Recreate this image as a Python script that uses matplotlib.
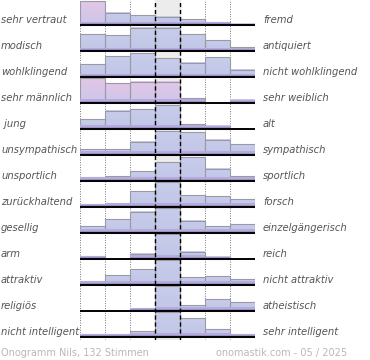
import numpy as np
import matplotlib
matplotlib.use("Agg")
import matplotlib.pyplot as plt
import matplotlib.transforms as mtransforms
from matplotlib.colors import LinearSegmentedColormap

# ------------------------------------------------------------
# Daten: Onogramm Nils (Höhe der Balken in % der Zeilenhöhe)
# ------------------------------------------------------------
left_labels = ["sehr vertraut", "modisch", "wohlklingend", "sehr männlich", " jung",
               "unsympathisch", "unsportlich", "zurückhaltend", "gesellig", "arm",
               "attraktiv", "religiös", "nicht intelligent"]
right_labels = ["fremd", "antiquiert", "nicht wohlklingend", "sehr weiblich", "alt",
                "sympathisch", "sportlich", "forsch", "einzelgängerisch", "reich",
                "nicht attraktiv", "atheistisch", "sehr intelligent"]

row_sehr_vertraut = [92, 47, 37, 32, 22, 10, 5]
row_modisch = [65, 60, 90, 90, 65, 42, 15]
row_wohlklingend = [50, 80, 92, 73, 54, 76, 27]
row_maennlich = [96, 76, 81, 81, 17, 0, 12]
row_jung = [37, 70, 77, 92, 18, 12, 0]
row_unsympathisch = [22, 22, 51, 92, 87, 58, 41]
row_unsportlich = [15, 19, 37, 73, 92, 47, 19]
row_zurueckhaltend = [10, 15, 59, 96, 46, 42, 28]
row_gesellig = [26, 51, 81, 96, 47, 26, 33]
row_arm = [10, 0, 20, 96, 27, 8, 0]
row_attraktiv = [13, 36, 60, 96, 28, 32, 23]
row_religioes = [0, 0, 10, 96, 20, 45, 32]
row_intelligent = [9, 9, 23, 96, 70, 28, 10]

# hervorgehobene (rosa) Balken: (Zeile, Spalte)
pink_bars = [(0, 0), (3, 0), (3, 1), (3, 2), (3, 3)]

footer_left = "Onogramm Nils, 132 Stimmen"
footer_right = "onomastik.com - 05 / 2025"

values = np.array([row_sehr_vertraut, row_modisch, row_wohlklingend, row_maennlich,
                   row_jung, row_unsympathisch, row_unsportlich, row_zurueckhaltend,
                   row_gesellig, row_arm, row_attraktiv, row_religioes,
                   row_intelligent]) / 100.0

n_rows, n_bins = values.shape

# ------------------------------------------------------------
# Figur
# ------------------------------------------------------------
W, H = 370, 360
fig = plt.figure(figsize=(W / 100, H / 100), dpi=100)
ax = fig.add_axes([80 / W, 20 / H, 175 / W, 340 / H])
ax.set_axis_off()

blue_cmap = LinearSegmentedColormap.from_list("b", ["#c9cdeb", "#c1c5e7"])
pink_cmap = LinearSegmentedColormap.from_list("p", ["#e2c6e6", "#cdc6ea"])
grad = np.linspace(0, 1, 50).reshape(-1, 1)

# mittlere Spalte grau hinterlegt
ax.axvspan(3, 4, color="#ececec", zorder=0)

# gepunktete Spaltengrenzen
for x in [0, 1, 2, 5, 6, 7]:
    ax.axvline(x, color="#777777", lw=0.7, linestyle=(0, (1, 1.5)), zorder=1)

for r in range(n_rows):
    base = r + 1
    for b in range(n_bins):
        hh = values[r, b]
        if hh <= 0:
            continue
        cmap = pink_cmap if (r, b) in pink_bars else blue_cmap
        ax.imshow(grad, cmap=cmap, aspect="auto", origin="upper",
                  extent=(b, b + 1, base, base - hh), zorder=2,
                  interpolation="bilinear")
        ax.bar(b + 0.5, hh, width=1, bottom=base - hh, facecolor="none",
               edgecolor="#9a9aa6", lw=0.8, zorder=3)
        s1 = min(hh, 0.13)
        s2 = min(hh, 0.07)
        ax.bar(b + 0.5, s1, width=1, bottom=base - s1, color="#b3add9", lw=0, zorder=3)
        ax.bar(b + 0.5, s2, width=1, bottom=base - s2, color="#9d8ec5", lw=0, zorder=3)
    ax.hlines(base, 0, 7, color="black", lw=1.4, zorder=5)

# gestrichelte Linien der Mitte
for x in [3, 4]:
    ax.axvline(x, color="black", lw=1.0, linestyle=(0, (3, 2)), zorder=6)

# y: Zeilenhöhe ~26 px
ax.set_xlim(0, 7)
ax.set_ylim(13.13, 0.04)

# ------------------------------------------------------------
# Beschriftungen
# ------------------------------------------------------------
trans = mtransforms.blended_transform_factory(fig.transFigure, ax.transData)
for r in range(n_rows):
    y = r + 1 - 0.08
    ax.text(1 / W, y, left_labels[r], transform=trans, ha="left", va="baseline",
            fontsize=7.2, style="italic", color="#555555")
    ax.text(263 / W, y, right_labels[r], transform=trans, ha="left", va="baseline",
            fontsize=7.2, style="italic", color="#555555")

fig.text(1 / W, 1 - 353 / H, footer_left, ha="left", va="center",
         fontsize=7, color="#b8b8b8")
fig.text(347 / W, 1 - 353 / H, footer_right, ha="right", va="center",
         fontsize=7, color="#b8b8b8")

fig.savefig("out.png", dpi=100)
